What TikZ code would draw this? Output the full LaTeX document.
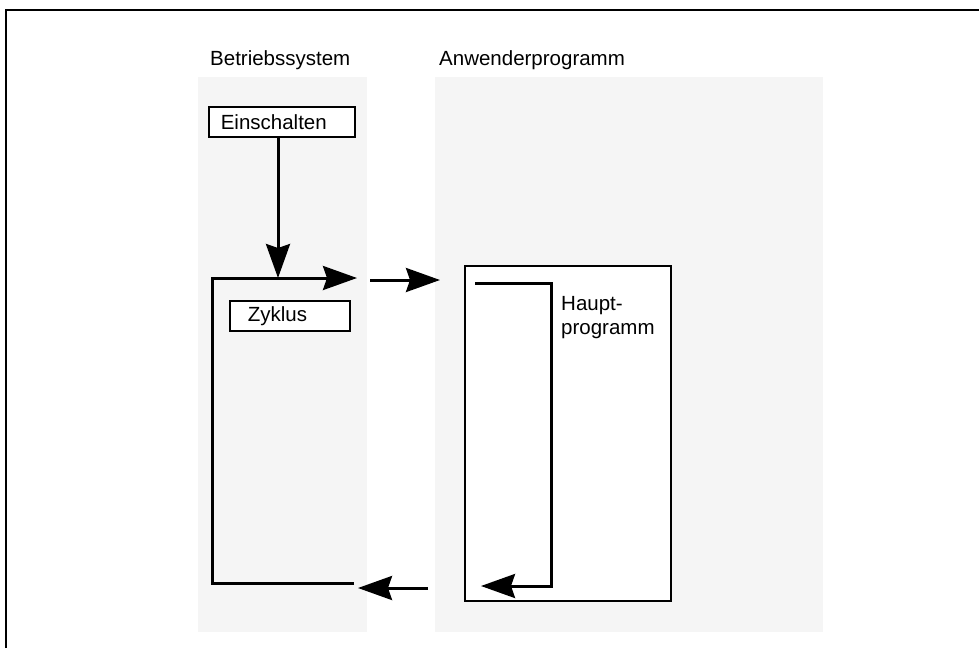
\documentclass[tikz,border=0pt]{standalone}
\usepackage{fontspec}
\setmainfont{Liberation Sans}
\usetikzlibrary{arrows.meta,positioning}
\definecolor{panelgray}{gray}{0.96}
\tikzset{
  panel/.style={fill=panelgray,draw=none},
  stepbox/.style={draw,line width=1.6pt,fill=white,anchor=north west,inner ysep=0pt,
    minimum height=30pt,align=left},
  flow/.style={line width=3pt,line join=miter},
  bighead/.style={-{Stealth[length=34pt,width=24pt,inset=4pt]}},
}
\begin{document}
\begin{tikzpicture}[x=1pt,y=-1pt,font=\fontsize{20.5}{24}\selectfont]
        \useasboundingbox (0,0) rectangle (979,648);
        % frame
        \draw[line width=2pt] (6,648) -- (6,10) -- (979,10);
        % panels
        \fill[panel] (198,77) rectangle (367,632);
        \fill[panel] (435,77) rectangle (823,632);
        \node[anchor=base west,inner sep=0pt] (os) at (210,65) {Betriebssystem};
        \node[anchor=base west,inner sep=0pt] (app) at (439,65) {Anwenderprogramm};
        % boxes
        \node[stepbox,inner xsep=12pt,text width=122pt] (ein) at (208,106) {Einschalten};
        \node[stepbox,inner xsep=18pt,text width=84pt] (zyk) at (229,300) {Zyklus};
        \draw[line width=1.6pt,fill=white] (465,266) rectangle (671,601);
        \node[anchor=north west,align=left,inner sep=0pt] (hp) at (561,296) {Haupt-\\programm};
        % corners
        \coordinate (join) at (278,278);
        \coordinate (lt) at (212,278);
        \coordinate (lb) at (212,583);
        \coordinate (osout) at (357,278);
        \coordinate (osend) at (354,583);
        \coordinate (hpt) at (475,283);
        \coordinate (hptr) at (551,283);
        \coordinate (hpbr) at (551,586);
        \coordinate (hpend) at (481,586);
        % connectors
        \draw[flow,bighead] (ein.south -| join) -- (join);
        \draw[flow,bighead] (osend) -- (lb) -- (lt) -- (osout);
        \draw[flow,bighead] (370,280) -- (440,280);
        \draw[flow,bighead] (hpt) -- (hptr) -- (hpbr) -- (hpend);
        \draw[flow,bighead] (428,588) -- (358,588);
\end{tikzpicture}
\end{document}
